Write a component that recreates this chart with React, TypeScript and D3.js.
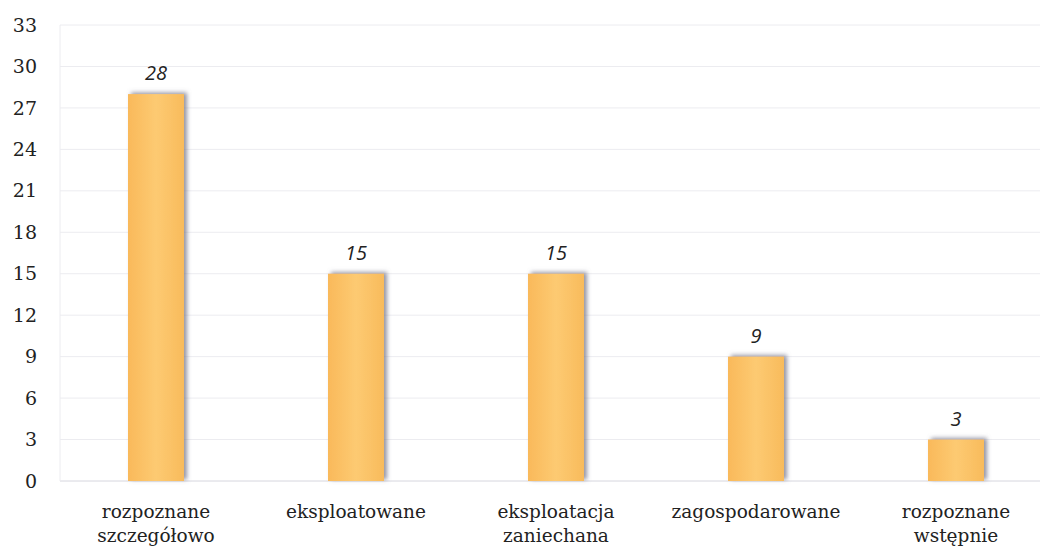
import React from 'react';
import * as d3 from 'd3';

// Chart data
const categories = [
  ['rozpoznane', 'szczegółowo'],
  ['eksploatowane'],
  ['eksploatacja', 'zaniechana'],
  ['zagospodarowane'],
  ['rozpoznane', 'wstępnie'],
];
const counts = [28, 15, 15, 9, 3];
const yTicks = [0, 3, 6, 9, 12, 15, 18, 21, 24, 27, 30, 33];

const width = 1043;
const height = 549;
const margin = {
  top: 25, right: 0, bottom: 68, left: 56,
};
const gridRight = 1040;
const barWidth = 56;

const App: React.FC = () => {
  const keys = categories.map((c) => c.join(' '));
  const x = d3.scaleBand<string>()
    .domain(keys)
    .range([margin.left, 1056]);
  const y = d3.scaleLinear()
    .domain([0, 33])
    .range([height - margin.bottom, margin.top]);

  const cx = (k: string) => (x(k) ?? 0) + x.bandwidth() / 2;

  return (
    <svg width={width} height={height} style={{ position: 'absolute', left: 0, top: 0, background: '#fff' }}>
      <defs>
        <linearGradient id="barFill" x1="0" x2="1" y1="0" y2="0">
          <stop offset="0%" stopColor="#f9b95a" />
          <stop offset="50%" stopColor="#fdca72" />
          <stop offset="100%" stopColor="#f8bb5c" />
        </linearGradient>
        <filter id="shadow" x="-20%" y="-20%" width="150%" height="140%">
          <feDropShadow dx="3" dy="-1.5" stdDeviation="2.2" floodColor="#7a7a8c" floodOpacity="0.8" />
        </filter>
      </defs>

      {/* horizontal grid */}
      <g>
        {yTicks.map((t) => (
          <line
            key={t}
            x1={margin.left + 4}
            x2={gridRight}
            y1={y(t)}
            y2={y(t)}
            stroke={t === 0 ? '#d6d6de' : '#ececf0'}
            strokeWidth={1}
          />
        ))}
        <line x1={margin.left + 4} x2={margin.left + 4} y1={y(33)} y2={y(0)} stroke="#ececf0" />
      </g>

      {/* y tick labels */}
      <g fontFamily="'DejaVu Serif', serif" fontSize={19} fill="#222">
        {yTicks.map((t) => (
          <text key={t} x={37} y={y(t)} dy="0.35em" textAnchor="end">{t}</text>
        ))}
      </g>

      {/* bars */}
      <g>
        {keys.map((k, i) => (
          <rect
            key={k}
            x={cx(k) - barWidth / 2}
            y={y(counts[i])}
            width={barWidth}
            height={y(0) - y(counts[i])}
            fill="url(#barFill)"
            filter="url(#shadow)"
          />
        ))}
      </g>

      {/* value labels */}
      <g fontFamily="'Open Sans', sans-serif" fontStyle="italic" fontSize={20} fill="#222" textAnchor="middle">
        {keys.map((k, i) => (
          <text key={k} x={cx(k)} y={y(counts[i]) - 14}>{counts[i]}</text>
        ))}
      </g>

      {/* category labels */}
      <g fontFamily="'DejaVu Serif', serif" fontSize={18.5} fill="#222" textAnchor="middle">
        {categories.map((lines, i) => (
          <text key={keys[i]} x={cx(keys[i])} y={y(0) + 37}>
            {lines.map((l, j) => (
              <tspan key={l} x={cx(keys[i])} dy={j === 0 ? 0 : 24}>{l}</tspan>
            ))}
          </text>
        ))}
      </g>
    </svg>
  );
};

export default App;
